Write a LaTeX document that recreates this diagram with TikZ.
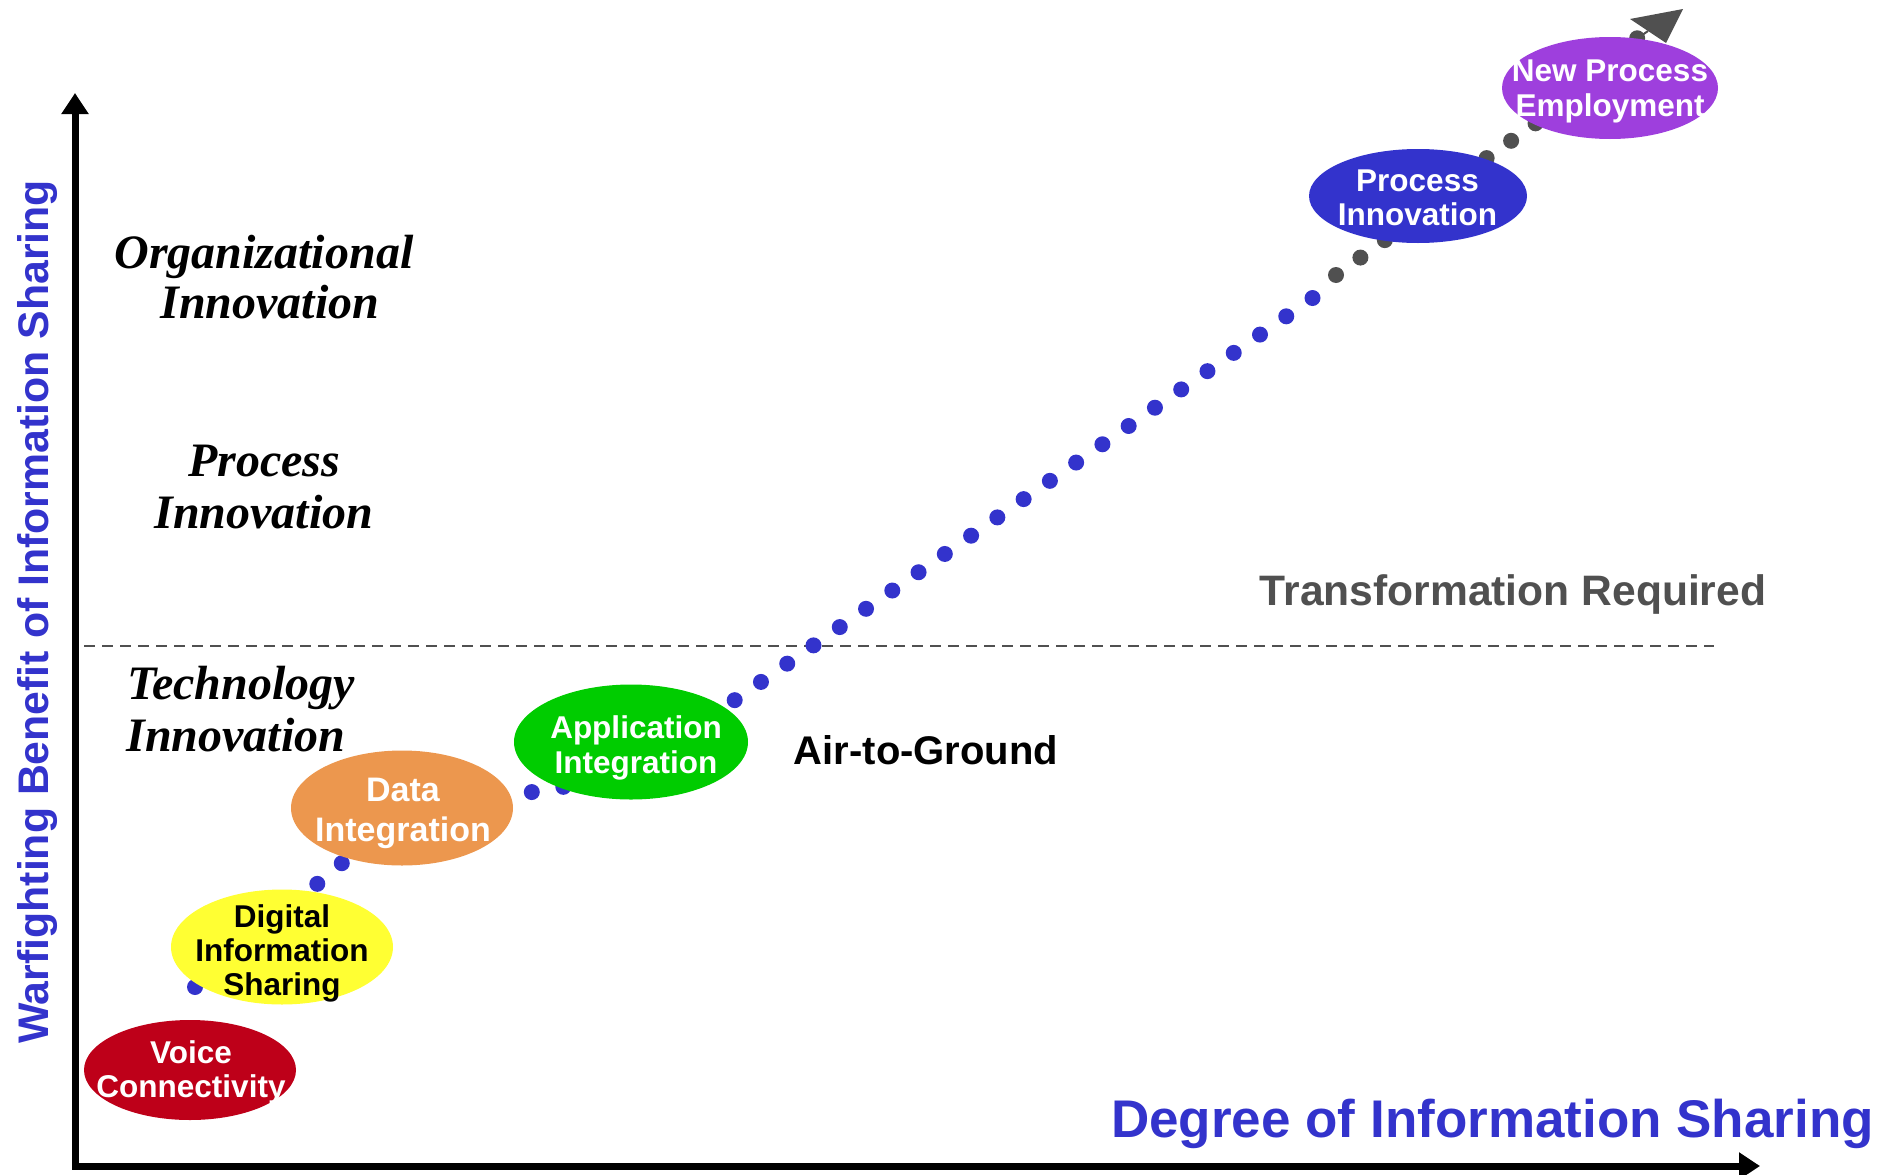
\documentclass[tikz,border=0pt]{standalone}
\usepackage{fontspec}
\setmainfont{Liberation Sans}
\newfontfamily\timesfont{Liberation Serif}
\usetikzlibrary{shapes.geometric,arrows.meta}
\definecolor{ablue}{HTML}{3333CC}
\definecolor{agray}{HTML}{505050}
\definecolor{voicered}{HTML}{BE0019}
\definecolor{digyellow}{HTML}{FFFF33}
\definecolor{dataorange}{HTML}{EC974E}
\definecolor{appgreen}{HTML}{00CC00}
\definecolor{newpurple}{HTML}{9E3FDD}
\begin{document}
\begin{tikzpicture}[x=1pt,y=-1pt,
  ell/.style={ellipse, draw=none, inner sep=0pt},
  etext/.style={align=center, inner sep=0pt, font=\fontsize{31.5}{34}\selectfont\bfseries},
  innov/.style={align=center, inner sep=0pt, font=\timesfont\bfseries\itshape\fontsize{48}{52}\selectfont},
  axisline/.style={line width=7pt, line join=miter, {Triangle[length=21pt,width=26pt]}-{Triangle[length=21pt,width=26pt]}},
  bluedots/.style={draw=ablue, line width=16pt, line cap=round, line join=round, dash pattern=on 0pt off 32pt},
  graydots/.style={draw=agray, line width=16pt, line cap=round, line join=round, dash pattern=on 0pt off 30pt},
  plain/.style={inner sep=0pt, font=\bfseries}
]
\useasboundingbox (0,0) rectangle (1879,1175);

% dashed threshold line
\coordinate (dl) at (84,646);
\coordinate (dr) at (1714,646);
\draw[agray, line width=2.5pt, dash pattern=on 11pt off 7pt] (dl) -- (dr);

% axes
\coordinate (ytop) at (75,93);
\coordinate (orig) at (75,1166);
\coordinate (xend) at (1760,1166);
\draw[axisline] (ytop) -- (orig) -- (xend);

% blue dotted trajectory
\coordinate (b0) at (195,987);
\coordinate (b1) at (342,863);
\coordinate (bv1) at (406.6,792.1);
\coordinate (bv2) at (502,803);
\coordinate (b2) at (532,792);
\coordinate (b3) at (563,787);
\coordinate (b4) at (735,700);
\coordinate (b5) at (1314,297);
\draw[bluedots] (b0) -- (b1) -- (bv1) -- (bv2) -- (b2) -- (b3) -- (b4) -- (b5);

% gray dotted arrow
\coordinate (g0) at (1336,275);
\coordinate (g2) at (1385,240);
\coordinate (gv1) at (1400,182);
\coordinate (g3) at (1487,158);
\coordinate (g5) at (1536,123);
\coordinate (gv2) at (1552,65);
\coordinate (g6) at (1638,38);
\coordinate (tip) at (1683,9);
\coordinate (tipbase) at (1648,31);
\draw[graydots] (g0) -- (g2) -- (gv1) -- (g3) -- (g5) -- (gv2) -- (g6);
\draw[agray, line width=2pt] (g6) -- (tipbase);
\fill[agray] (tip) -- ++(-53,10) -- ++(36,24) -- cycle;

% ellipses
\node[ell, fill=voicered, minimum width=212pt, minimum height=100pt] (voice) at (190,1070) {};
\node[ell, fill=digyellow, minimum width=222pt, minimum height=115pt] (digital) at (282,947) {};
\node[ell, fill=dataorange, minimum width=222pt, minimum height=115pt] (data) at (402,808) {};
\node[ell, fill=appgreen, minimum width=234pt, minimum height=115pt] (app) at (631,742) {};
\node[ell, fill=ablue, minimum width=218pt, minimum height=94pt] (procinn) at (1418,196) {};
\node[ell, fill=newpurple, minimum width=216pt, minimum height=102pt] (newproc) at (1610,88) {};

% ellipse texts
\node[etext, text=white] (voicet) at (191,1072) {Voice\\Connectivity};
\node[etext, text=black] (digitalt) at (282,953) {Digital\\Information\\Sharing};
\node[etext, text=white, font=\fontsize{34}{40}\selectfont\bfseries] (datat) at (403,813) {Data\\Integration};
\node[etext, text=white, font=\fontsize{31.5}{35}\selectfont\bfseries] (appt) at (636,747.5) {Application\\Integration};
\node[etext, text=white, font=\fontsize{31.5}{34}\selectfont\bfseries] (procinnt) at (1417.5,197.5) {Process\\Innovation};
\node[etext, text=white, font=\fontsize{31.5}{34.5}\selectfont\bfseries] (newproct) at (1610,91.5) {New Process\\Employment};

% level labels
\node[innov, font=\timesfont\bfseries\itshape\fontsize{48}{50}\selectfont] (orglbl) at (264,277) {Organizational\\\hspace*{12pt}Innovation};
\node[innov] (proclbl) at (264,487.5) {Process\\Innovation};
\node[innov] (techlbl) at (241,709.5) {Technology\\Innovation\hspace*{10pt}};

% other texts
\node[plain, font=\fontsize{40}{48}\selectfont\bfseries, anchor=base] (a2g) at (926,764) {Air-to-Ground};
\node[plain, text=agray, font=\fontsize{42.6}{50}\selectfont\bfseries, anchor=base] (transf) at (1513,605) {Transformation Required};
\node[plain, text=ablue, font=\fontsize{53}{62}\selectfont\bfseries, anchor=base west] (xlbl) at (1111,1137) {Degree of Information Sharing};
\node[plain, text=ablue, font=\fontsize{42.8}{50}\selectfont\bfseries, anchor=base, rotate=90] (ylbl) at (48,612) {Warfighting Benefit of Information Sharing};
\end{tikzpicture}
\end{document}
